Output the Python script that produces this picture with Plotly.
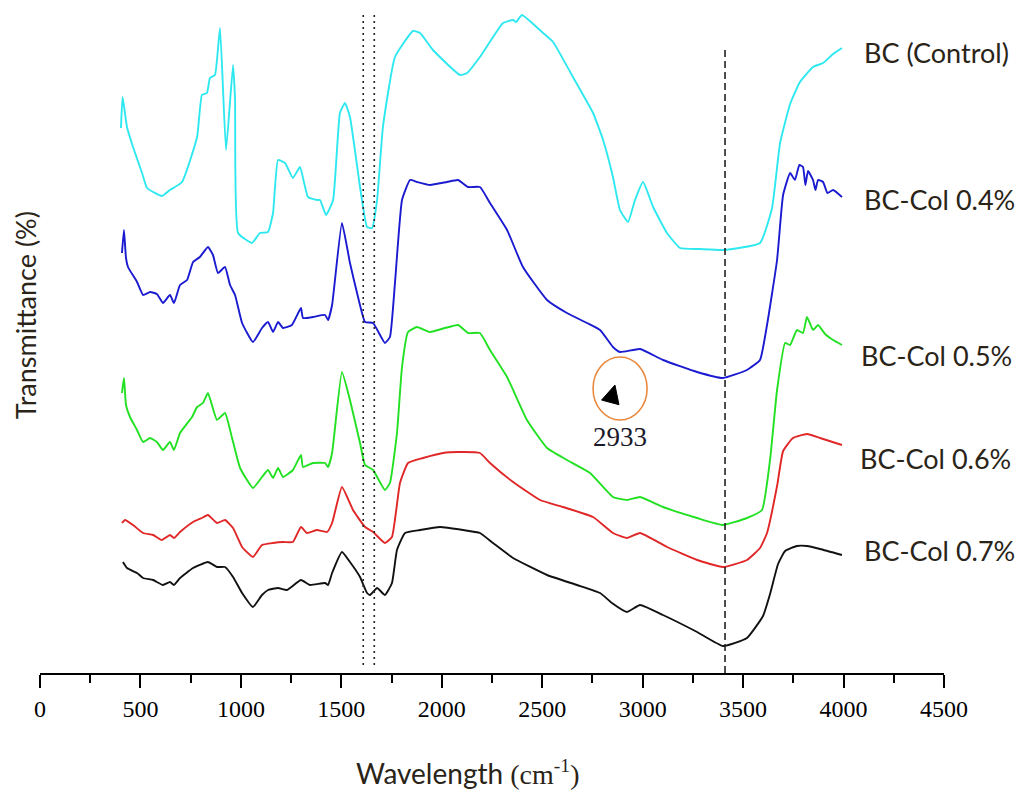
import plotly.graph_objects as go

# ---------------- data (wavenumber, cm^-1 ; transmittance, arbitrary units) ----------------
bc_x = [403, 411, 433, 463, 508, 533, 607, 647, 707, 782, 806, 831, 846, 871, 896, 926, 961, 971, 986,
        1055, 1095, 1135, 1160, 1185, 1220, 1259, 1294, 1334, 1379, 1394, 1424, 1459, 1493, 1518, 1543,
        1593, 1628, 1653, 1678, 1707, 1767, 1857, 1892, 1956, 2091, 2126, 2190, 2305, 2355, 2370, 2399,
        2504, 2554, 2653, 2753, 2803, 2852, 2887, 2927, 2962, 3002, 3052, 3121, 3186, 3285, 3400, 3584,
        3644, 3684, 3734, 3783, 3848, 3898, 3948, 3992]
bc_y = [545, 576, 546, 526, 500, 485, 477, 483, 491, 536, 578, 580, 595, 598, 645, 523, 608, 573, 440,
        430, 440, 441, 460, 513, 510, 495, 506, 476, 473, 473, 458, 473, 560, 570, 556,
        486, 446, 445, 473, 546, 616, 642, 640, 623, 598, 600, 616, 650, 653, 651, 658,
        640, 631, 596, 560, 533, 496, 463, 451, 473, 491, 466, 440, 425, 424, 423, 430,
        465, 530, 569, 591, 606, 610, 619, 625]

c04_x = [408, 418, 428, 438, 483, 513, 548, 582, 612, 647, 667, 697, 732, 762, 796, 836, 861, 886, 921,
         946, 971, 1006, 1060, 1105, 1135, 1160, 1185, 1210, 1254, 1299, 1309, 1359, 1419, 1434, 1454,
         1503, 1543, 1583, 1618, 1658, 1717, 1742, 1767, 1802, 1842, 1877, 1941, 2026, 2081, 2131, 2190,
         2240, 2325, 2404, 2524, 2623, 2723, 2788, 2852, 2887, 2987, 3101, 3271, 3400, 3519, 3584, 3619,
         3669, 3699, 3734, 3758, 3780, 3798, 3810, 3823, 3848, 3860, 3873, 3898, 3920, 3948, 3992]
c04_y = [420, 443, 415, 406, 391, 378, 381, 379, 370, 378, 370, 388, 393, 411, 416, 426, 418, 400, 406,
         388, 378, 350, 331, 345, 351, 341, 351, 345, 348, 365, 355, 356, 358, 353, 368,
         450, 410, 376, 351, 350, 330, 336, 390, 473, 493, 491, 488, 491, 493, 486, 486,
         470, 443, 406, 373, 360, 350, 343, 326, 321, 324, 313, 301, 295, 303, 313, 348,
         413, 478, 500, 493, 508, 506, 488, 502, 493, 483, 493, 491, 480, 483, 476]

c05_x = [408, 418, 428, 448, 483, 513, 548, 582, 612, 647, 667, 697, 757, 782, 811, 836, 881, 921, 956,
         996, 1060, 1105, 1135, 1160, 1185, 1210, 1259, 1299, 1309, 1359, 1419, 1434, 1454, 1503, 1543,
         1593, 1618, 1658, 1717, 1742, 1777, 1802, 1832, 1877, 1941, 2016, 2081, 2131, 2190, 2240, 2325,
         2424, 2524, 2623, 2738, 2852, 2922, 2987, 3101, 3271, 3400, 3519, 3594, 3634, 3669, 3709, 3734,
         3768, 3798, 3818, 3848, 3873, 3908, 3948, 3992]
c05_y = [280, 295, 268, 256, 243, 231, 235, 231, 223, 231, 223, 240, 256, 266, 270, 280, 253, 260, 235,
         205, 185, 196, 203, 195, 205, 196, 203, 218, 206, 210, 210, 206, 220, 301, 273,
         230, 208, 203, 183, 190, 240, 306, 341, 346, 341, 345, 348, 340, 340, 323, 296,
         253, 225, 213, 200, 176, 173, 176, 166, 155, 148, 155, 163, 213, 283, 330, 328,
         343, 340, 356, 343, 348, 339, 333, 328]

c06_x = [408, 423, 463, 513, 563, 607, 647, 667, 697, 762, 806, 836, 881, 921, 961, 1006, 1060, 1105,
         1160, 1210, 1259, 1299, 1329, 1379, 1429, 1454, 1503, 1558, 1618, 1658, 1717, 1752, 1792, 1832,
         1907, 2006, 2081, 2190, 2240, 2355, 2489, 2603, 2753, 2852, 2922, 2987, 3121, 3271, 3400, 3519,
         3584, 3619, 3669, 3699, 3748, 3818, 3883, 3992]
c06_y = [150, 153, 148, 140, 138, 133, 138, 135, 141, 151, 155, 158, 150, 153, 145, 126, 116, 128,
         130, 131, 131, 146, 140, 143, 141, 150, 186, 163, 146, 141, 130, 136, 190, 210,
         215, 220, 221, 220, 210, 191, 173, 166, 156, 140, 135, 140, 126, 113, 106, 113,
         125, 140, 187, 222, 235, 239, 235, 228]

c07_x = [413, 433, 483, 513, 563, 612, 647, 667, 697, 762, 836, 881, 921, 961, 1006, 1060, 1105, 1135,
         1185, 1230, 1299, 1344, 1419, 1434, 1454, 1503, 1543, 1593, 1628, 1643, 1678, 1717, 1752, 1777,
         1817, 1892, 1991, 2106, 2190, 2255, 2355, 2524, 2673, 2788, 2847, 2922, 2987, 3101, 3271, 3400,
         3519, 3599, 3634, 3674, 3709, 3768, 3818, 3883, 3992]
c07_y = [111, 105, 100, 95, 93, 88, 91, 88, 95, 105, 111, 106, 106, 96, 80, 66, 78, 83,
         85, 83, 93, 88, 90, 88, 100, 121, 111, 96, 80, 78, 85, 78, 90, 123,
         140, 143, 146, 143, 140, 130, 115, 98, 88, 80, 70, 61, 68, 58, 41, 27,
         35, 57, 79, 109, 122, 127, 127, 124, 118]

series_names = ["BC (Control)", "BC-Col 0.4%", "BC-Col 0.5%", "BC-Col 0.6%", "BC-Col 0.7%"]
series_x = [bc_x, c04_x, c05_x, c06_x, c07_x]
series_y = [bc_y, c04_y, c05_y, c06_y, c07_y]
series_colors = ["#2ee8f0", "#1a1ad0", "#22e022", "#e02626", "#111111"]
label_x = [4092, 4092, 4077, 4072, 4092]
label_y = [621, 474, 318, 215, 123]

marker_lines_dotted = [1609, 1664]
marker_line_dashed = 3410
peak_label = "2933"
peak_label_x = [2887]
peak_label_y = [236]
arrow_x = [2862]
arrow_y = [288]
circle_x = [2753, 3022]
circle_y = [253, 316]

x_ticks = [0, 500, 1000, 1500, 2000, 2500, 3000, 3500, 4000, 4500]

# ---------------- figure ----------------
fig = go.Figure()

for name, xs, ys, col in zip(series_names, series_x, series_y, series_colors):
    fig.add_trace(go.Scatter(x=xs, y=ys, mode="lines", name=name,
                             line=dict(color=col, width=1.9, shape="spline", smoothing=0.4),
                             showlegend=False))

for xv in marker_lines_dotted:
    fig.add_trace(go.Scatter(x=[xv, xv], y=[8, 660], mode="lines", showlegend=False,
                             line=dict(color="#222222", width=1.6, dash="2px,4px")))
fig.add_trace(go.Scatter(x=[marker_line_dashed, marker_line_dashed], y=[0, 625], mode="lines",
                         showlegend=False, line=dict(color="#222222", width=1.6, dash="7px,4px")))

# orange circle around the 2933 feature, with a small black arrow head inside
fig.add_shape(type="circle", xref="x", yref="y", x0=circle_x[0], x1=circle_x[1],
              y0=circle_y[0], y1=circle_y[1], line=dict(color="#e8893e", width=1.6))
fig.add_trace(go.Scatter(x=arrow_x, y=arrow_y, mode="markers", showlegend=False,
                         marker=dict(symbol="arrow-up", size=18, color="black",
                                     angle=15, line=dict(width=1, color="black"))))
fig.add_annotation(x=peak_label_x[0], y=peak_label_y[0], text=peak_label, showarrow=False,
                   font=dict(family="Liberation Serif", size=27, color="#1a1a2a"))

for name, lx, ly in zip(series_names, label_x, label_y):
    fig.add_annotation(x=lx, y=ly, text=name, showarrow=False, xanchor="left", yanchor="middle",
                       font=dict(family="Lato", size=27, color="#2a2418"))

# axis titles
fig.add_annotation(xref="paper", yref="paper", x=-0.0165, y=0.538, text="Transmittance (%)",
                   textangle=-90, showarrow=False, xanchor="center", yanchor="middle",
                   font=dict(family="Lato", size=27, color="#2a2418"))
fig.add_annotation(xref="paper", yref="paper", x=0.473, y=-0.150, yanchor="middle",
                   text="Wavelength <span style='font-family:Liberation Serif'>(cm<sup>-1</sup>)</span>",
                   showarrow=False, font=dict(family="Lato", size=28, color="#2a2418"))

fig.update_xaxes(range=[0, 4500], tickvals=x_ticks, ticktext=[str(v) for v in x_ticks],
                 showline=True, linecolor="black", linewidth=2, ticks="outside", ticklen=13,
                 tickwidth=1.5, tickcolor="black", showgrid=False, zeroline=False,
                 tickfont=dict(family="Liberation Serif", size=24, color="black"),
                 minor=dict(dtick=250, tick0=250, ticks="outside", ticklen=8, tickwidth=1.5,
                            tickcolor="black", showgrid=False))
fig.update_yaxes(range=[0, 665], visible=False, showgrid=False, zeroline=False)

fig.update_layout(width=1016, height=784, margin=dict(l=32, r=80, t=0, b=119),
                  plot_bgcolor="white", paper_bgcolor="white")

fig.write_html("out.html")
